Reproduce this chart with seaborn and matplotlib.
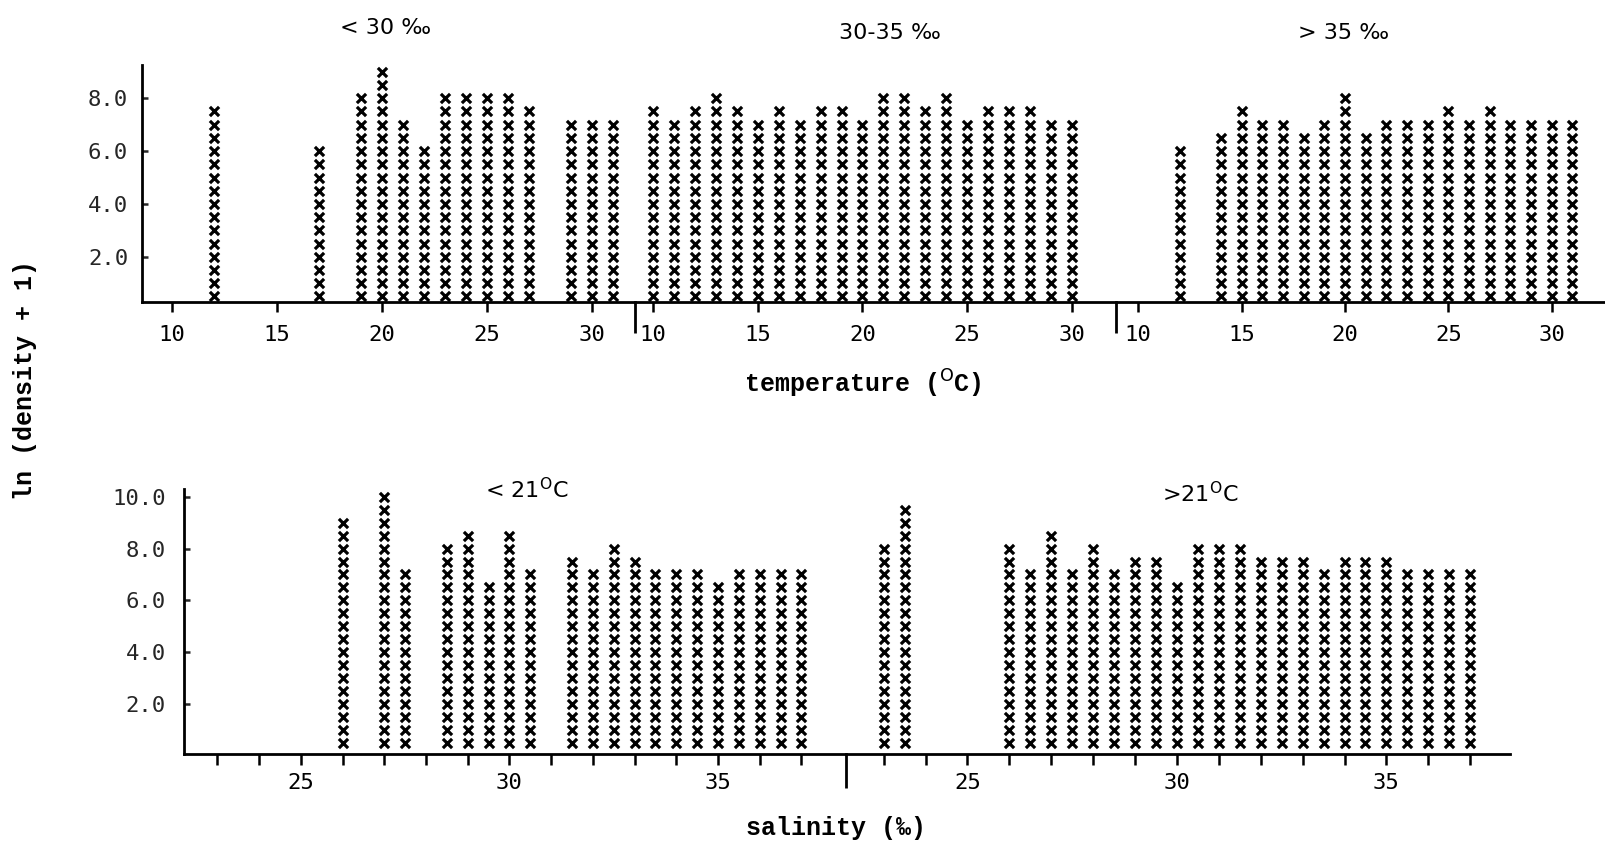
import numpy as np
import pandas as pd
import matplotlib
matplotlib.use("Agg")
import matplotlib.pyplot as plt
import seaborn as sns

# ---------------- data ----------------
# top row: ln(density+1) vs temperature, three salinity classes
temp_lt30 = [12, 17, 19, 20, 21, 22, 23, 24, 25, 26, 27, 29, 30, 31]
ln_lt30 = [7.5, 6.0, 8.0, 9.0, 7.0, 6.0, 8.0, 8.0, 8.0, 8.0, 7.5, 7.0, 7.0, 7.0]

temp_30_35 = [10, 11, 12, 13, 14, 15, 16, 17, 18, 19, 20,
              21, 22, 23, 24, 25, 26, 27, 28, 29, 30]
ln_30_35 = [7.5, 7.0, 7.5, 8.0, 7.5, 7.0, 7.5, 7.0, 7.5, 7.5, 7.0,
            8.0, 8.0, 7.5, 8.0, 7.0, 7.5, 7.5, 7.5, 7.0, 7.0]

temp_gt35 = [12, 14, 15, 16, 17, 18, 19, 20, 21, 22, 23, 24, 25, 26, 27, 28, 29, 30, 31]
ln_gt35 = [6.0, 6.5, 7.5, 7.0, 7.0, 6.5, 7.0, 8.0, 6.5, 7.0, 7.0, 7.0, 7.5, 7.0, 7.5,
           7.0, 7.0, 7.0, 7.0]

# bottom row: ln(density+1) vs salinity, two temperature classes
sal_lt21 = [26, 27, 27.5, 28.5, 29, 29.5, 30, 30.5, 31.5, 32, 32.5, 33, 33.5, 34,
            34.5, 35, 35.5, 36, 36.5, 37]
ln_lt21 = [9.0, 10.0, 7.0, 8.0, 8.5, 6.5, 8.5, 7.0, 7.5, 7.0, 8.0, 7.5, 7.0, 7.0,
           7.0, 6.5, 7.0, 7.0, 7.0, 7.0]

sal_gt21 = [23, 23.5, 26, 26.5, 27, 27.5, 28, 28.5, 29, 29.5, 30, 30.5, 31, 31.5,
            32, 32.5, 33, 33.5, 34, 34.5, 35, 35.5, 36, 36.5, 37]
ln_gt21 = [8.0, 9.5, 8.0, 7.0, 8.5, 7.0, 8.0, 7.0, 7.5, 7.5, 6.5, 8.0, 8.0, 8.0,
           7.5, 7.5, 7.5, 7.0, 7.5, 7.5, 7.5, 7.0, 7.0, 7.0, 7.0]

top_titles = ["< 30 \u2030", "30-35 \u2030", "> 35 \u2030"]
bottom_titles = [r"< 21$^{\mathrm{O}}$C", r">21$^{\mathrm{O}}$C"]
temp_ticks = [10, 15, 20, 25, 30]
sal_ticks = list(range(23, 38))
sal_ticklabels = ["25" if t == 25 else "30" if t == 30 else "35" if t == 35 else ""
                  for t in sal_ticks]
top_yticks = [2.0, 4.0, 6.0, 8.0]
bot_yticks = [2.0, 4.0, 6.0, 8.0, 10.0]
STEP = 0.5  # each typed "x" stands for 0.5 units of ln(density + 1)

# ---------------- style ----------------
sns.set_style("white")
plt.rcParams["font.family"] = ["DejaVu Sans Mono", "DejaVu Sans"]
MONO = ["Liberation Mono", "DejaVu Sans Mono"]
SANS = ["DejaVu Sans"]

W, H = 1605, 846
fig = plt.figure(figsize=(W / 100, H / 100), dpi=100)
fig.patch.set_facecolor("white")


def rect(x0, x1, y_top, y_bot):
    return [x0 / W, 1 - y_bot / H, (x1 - x0) / W, (y_bot - y_top) / H]


def stack(xs, hs):
    rows = []
    for x, h in zip(xs, hs):
        n = int(round(h / STEP))
        for k in range(1, n + 1):
            rows.append((x, k * STEP))
    return pd.DataFrame(rows, columns=["x", "level"])


def draw(ax, xs, hs):
    sns.scatterplot(data=stack(xs, hs), x="x", y="level", marker="x", color="black",
                    s=44, linewidth=2.3, ax=ax, legend=False, clip_on=False)
    ax.set_xlabel("")
    ax.set_ylabel("")
    ax.set_facecolor("none")
    for s in ["top", "right"]:
        ax.spines[s].set_visible(False)
    for s in ["left", "bottom"]:
        ax.spines[s].set_linewidth(2.0)
        ax.spines[s].set_color("black")


def divider(ax, frac):
    ax.plot([0, 0], [0, -frac], transform=ax.transAxes, clip_on=False,
            color="black", lw=2.0, solid_capstyle="butt")


# ---------------- top row ----------------
top_y = (65, 302.5)
top_panels = [
    (142, 634.6, (8.59, 32.04), temp_lt30, ln_lt30),
    (634.6, 1115.7, (9.11, 32.10), temp_30_35, ln_30_35),
    (1115.7, 1605, (8.91, 32.58), temp_gt35, ln_gt35),
]
for i, (x0, x1, xl, xs, hs) in enumerate(top_panels):
    ax = fig.add_axes(rect(x0, x1, *top_y))
    draw(ax, xs, hs)
    ax.set_xlim(*xl)
    ax.set_ylim(0.27, 9.26)
    ax.set_xticks(temp_ticks)
    ax.set_xticklabels([str(t) for t in temp_ticks])
    ax.tick_params(axis="x", bottom=True, direction="out", length=7, width=1.8,
                   pad=9, labelsize=16, colors="black")
    if i == 0:
        ax.set_yticks(top_yticks)
        ax.set_yticklabels([f"{v:.1f}" for v in top_yticks])
        ax.tick_params(axis="y", left=True, direction="in", length=4, width=1.8,
                       pad=10, labelsize=16)
    else:
        ax.spines["left"].set_visible(False)
        ax.set_yticks([])
        divider(ax, 0.13)

# ---------------- bottom row ----------------
bot_y = (489, 754)
bot_panels = [
    (184, 846, (22.2, 38.07), sal_lt21, ln_lt21),
    (846, 1510, (22.1, 37.95), sal_gt21, ln_gt21),
]
for i, (x0, x1, xl, xs, hs) in enumerate(bot_panels):
    ax = fig.add_axes(rect(x0, x1, *bot_y))
    draw(ax, xs, hs)
    ax.set_xlim(*xl)
    ax.set_ylim(0.07, 10.3)
    ax.set_xticks(sal_ticks)
    ax.set_xticklabels(sal_ticklabels)
    ax.tick_params(axis="x", bottom=True, direction="out", length=8, width=1.8,
                   pad=6, labelsize=16, colors="black")
    if i == 0:
        ax.set_yticks(bot_yticks)
        ax.set_yticklabels([f"{v:.1f}" for v in bot_yticks])
        ax.tick_params(axis="y", left=True, direction="in", length=4, width=1.8,
                       pad=13, labelsize=16)
    else:
        ax.spines["left"].set_visible(False)
        ax.set_yticks([])
        divider(ax, 0.13)

# ---------------- texts ----------------
def ftext(x, y, s, **kw):
    fig.text(x / W, 1 - y / H, s, ha="center", va="center", color="black", **kw)


ftext(386, 28, top_titles[0], fontsize=16, family=SANS)
ftext(890, 33, top_titles[1], fontsize=16, family=SANS)
ftext(1344, 33, top_titles[2], fontsize=16, family=SANS)
ftext(527, 490, bottom_titles[0], fontsize=16, family=SANS)
ftext(1200, 494, bottom_titles[1], fontsize=16, family=SANS)

ftext(863, 384, r"temperature ($^{\mathrm{O}}$C)", fontsize=18, family=MONO,
      weight="bold")
ftext(836, 828, "salinity (\u2030)", fontsize=18, family=MONO, weight="bold")
ftext(25, 380, "ln (density + 1)", fontsize=18, family=MONO, weight="bold",
      rotation=90)

fig.savefig("out.png", dpi=100, facecolor="white")
